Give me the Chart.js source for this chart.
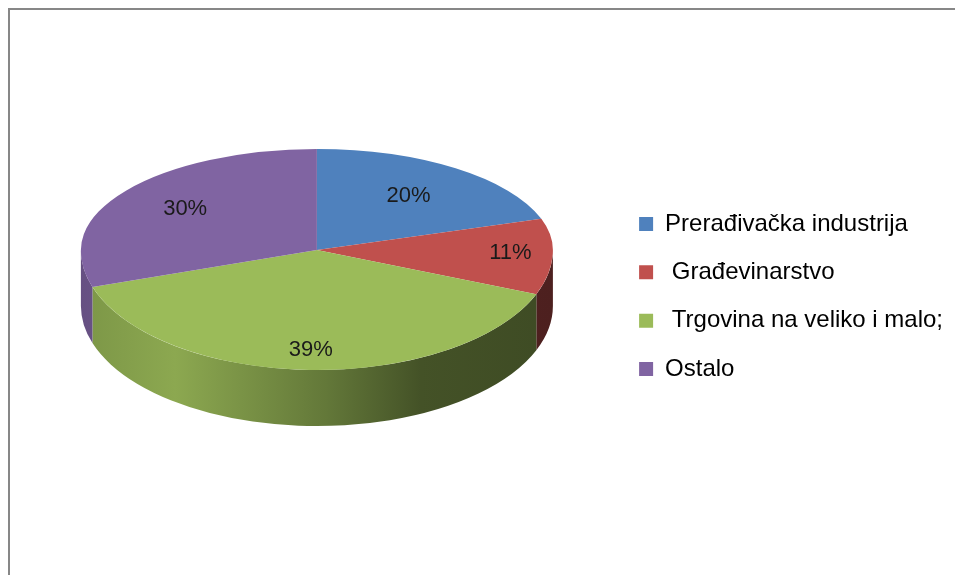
<!DOCTYPE html>
<html>
<head>
<meta charset="utf-8">
<script src="https://cdn.jsdelivr.net/npm/chart.js@4.4.0/dist/chart.umd.min.js"></script>
<style>
  html, body { margin: 0; padding: 0; background: #fff; }
  #wrap { position: relative; width: 955px; height: 575px; overflow: hidden; }
  #frame { position: absolute; left: 8px; top: 8px; right: -4px; bottom: -4px; border-top: 2px solid #878787; border-left: 2px solid #878787; pointer-events: none; }
</style>
</head>
<body>
<div id="wrap">
  <canvas id="chart" width="955" height="575"></canvas>
  <div id="frame"></div>
</div>
<script>
const categories = ['Prerađivačka industrija', ' Građevinarstvo', ' Trgovina na veliko i malo;', 'Ostalo'];
const shares = [20, 11, 39, 30];
const sliceColors = ['#4F81BD', '#C0504D', '#9BBB59', '#8064A2'];
// how far out each % label sits, as share of the radius
const labelReach = [0.66, 0.82, 0.83, 0.69];

// fake perspective: the back half of the top face is flatter than the front half
const tiltBack = 101 / 236;
const tiltFront = 120 / 236;
const depth = 56;     // height of the side wall
const topY = 250;     // where the slices meet on the page

function shade(hex, f) {
    const n = parseInt(hex.slice(1), 16);
    const r = Math.round(((n >> 16) & 255) * f);
    const g = Math.round(((n >> 8) & 255) * f);
    const b = Math.round((n & 255) * f);
    return "rgb(" + r + "," + g + "," + b + ")";
}

function squash(chart, arc, tilt, top) {
    const ctx = chart.ctx;
    ctx.save();
    ctx.beginPath();
    if (top) ctx.rect(0, 0, chart.width, topY);
    else ctx.rect(0, topY, chart.width, chart.height - topY);
    ctx.clip();
    ctx.translate(arc.x, topY);
    ctx.scale(1, tilt);
    ctx.translate(-arc.x, -arc.y);
}

const pie3d = {
    id: "pie3d",
    beforeDatasetsDraw(chart) {
        const ctx = chart.ctx;
        const arcs = chart.getDatasetMeta(0).data;
        const cx = arcs[0].x, rx = arcs[0].outerRadius, ry = rx * tiltFront;
        // side walls, only the front half is visible
        arcs.forEach((arc, i) => {
            const a1 = Math.max(arc.startAngle, 0);
            const a2 = Math.min(arc.endAngle, Math.PI);
            if (a2 <= a1) return;
            const c = sliceColors[i];
            const g = ctx.createLinearGradient(cx - rx, 0, cx + rx, 0);
            g.addColorStop(0, shade(c, 0.8));
            g.addColorStop(0.2, shade(c, 0.9));
            g.addColorStop(0.52, shade(c, 0.64));
            g.addColorStop(0.72, shade(c, 0.44));
            g.addColorStop(1, shade(c, 0.4));
            ctx.beginPath();
            ctx.ellipse(cx, topY, rx, ry, 0, a1, a2, false);
            ctx.ellipse(cx, topY + depth, rx, ry, 0, a2, a1, true);
            ctx.closePath();
            ctx.fillStyle = g;
            ctx.fill();
        });
        // back half of the top face is drawn by chart.js itself
        squash(chart, arcs[0], tiltBack, true);
    },
    afterDatasetsDraw(chart) {
        const ctx = chart.ctx;
        const meta = chart.getDatasetMeta(0);
        const arcs = meta.data;
        ctx.restore();
        // front half: same arcs again, less squashed
        squash(chart, arcs[0], tiltFront, false);
        meta.controller.draw();
        ctx.restore();

        const total = shares.reduce((s, v) => s + v, 0);
        ctx.save();
        ctx.font = "22px 'Liberation Sans'";
        ctx.fillStyle = "#1a1a1a";
        ctx.textAlign = "center";
        ctx.textBaseline = "middle";
        arcs.forEach((arc, i) => {
            const mid = (arc.startAngle + arc.endAngle) / 2;
            const r = arc.outerRadius * labelReach[i];
            const s = Math.sin(mid);
            const x = arc.x + r * Math.cos(mid);
            const y = topY + r * s * (s < 0 ? tiltBack : tiltFront);
            ctx.fillText(Math.round(shares[i] / total * 100) + "%", x, y);
        });
        ctx.restore();
    }
};

new Chart(document.getElementById("chart"), {
    type: "pie",
    data: {
        labels: categories,
        datasets: [{
            data: shares,
            backgroundColor: sliceColors,
            borderWidth: 0,
            radius: 236,
            clip: false
        }]
    },
    options: {
        responsive: false,
        devicePixelRatio: 1,
        animation: false,
        events: [],
        layout: { padding: { left: 19, right: 2, top: 18, bottom: 0 } },
        plugins: {
            legend: {
                position: "right",
                labels: {
                    boxWidth: 14,
                    boxHeight: 14,
                    padding: 24.3,
                    color: "#000",
                    font: { family: "'Liberation Sans'", size: 24 }
                }
            },
            tooltip: { enabled: false }
        }
    },
    plugins: [pie3d]
});
</script>
</body>
</html>
